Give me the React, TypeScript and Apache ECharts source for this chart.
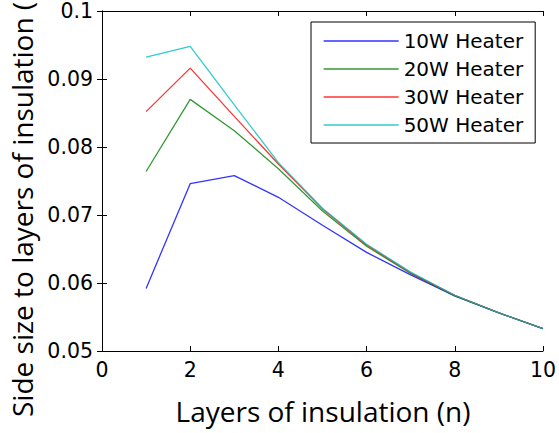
import React, { useEffect, useRef } from "react";
import * as echarts from "echarts";

const layers = [1, 2, 3, 4, 5, 6, 7, 8, 9, 10];
const heater10W = [0.0592, 0.0746, 0.0758, 0.0726, 0.0685, 0.0645, 0.0612, 0.0581, 0.0556, 0.0533];
const heater20W = [0.0764, 0.087, 0.0824, 0.0768, 0.0706, 0.0654, 0.0614, 0.0581, 0.0556, 0.0533];
const heater30W = [0.0852, 0.0916, 0.0845, 0.0775, 0.0709, 0.0656, 0.0615, 0.0582, 0.0556, 0.0533];
const heater50W = [0.0932, 0.0948, 0.0862, 0.0777, 0.071, 0.0657, 0.0616, 0.0582, 0.0556, 0.0533];
const seriesNames = ["10W Heater", "20W Heater", "30W Heater", "50W Heater"];
const seriesColors = ["#0000ff", "#008000", "#ff0000", "#00bfbf"];
const xTitle = "Layers of insulation (n)";
const yTitle = "Side size to layers of insulation (m)";

export default function App() {
  const ref = useRef<HTMLDivElement>(null);
  useEffect(() => {
    if (!ref.current) return;
    const chart = echarts.init(ref.current, null, { renderer: "svg" });
    const all = [heater10W, heater20W, heater30W, heater50W];
    const tickFont = { fontFamily: "DejaVu Sans", fontSize: 20.5, color: "#000" };
    const axisLine = { show: true, lineStyle: { color: "#000", width: 1 } };
    const axisTick = { show: true, inside: true, length: 5, lineStyle: { color: "#000" } };
    chart.setOption({
      animation: false,
      backgroundColor: "#fff",
      grid: { left: 102, right: 13, top: 11, bottom: 82, containLabel: false },
      xAxis: [
        {
          type: "value",
          min: 0,
          max: 10,
          interval: 2,
          position: "bottom",
          axisLine,
          axisTick,
          splitLine: { show: false },
          axisLabel: { ...tickFont, margin: 8 },
        },
        {
          type: "value",
          min: 0,
          max: 10,
          interval: 2,
          position: "top",
          axisLine,
          axisTick,
          splitLine: { show: false },
          axisLabel: { show: false },
        },
      ],
      yAxis: [
        {
          type: "value",
          min: 0.05,
          max: 0.1,
          interval: 0.01,
          position: "left",
          axisLine,
          axisTick,
          splitLine: { show: false },
          axisLabel: {
            ...tickFont,
            margin: 9,
            formatter: (v: number) => String(parseFloat(v.toFixed(4))),
          },
        },
        {
          type: "value",
          min: 0.05,
          max: 0.1,
          interval: 0.01,
          position: "right",
          axisLine,
          axisTick,
          splitLine: { show: false },
          axisLabel: { show: false },
        },
      ],
      legend: {
        data: seriesNames,
        orient: "vertical",
        left: 311,
        top: 22,
        padding: [9, 12, 8, 12],
        itemGap: 8,
        itemWidth: 75,
        itemHeight: 20,
        backgroundColor: "#fff",
        borderColor: "#000",
        borderWidth: 1,
        itemStyle: { opacity: 0, borderWidth: 0 },
        lineStyle: { width: 1.3 },
        textStyle: { fontFamily: "DejaVu Sans", fontSize: 20, color: "#000" },
      },
      graphic: [
        {
          type: "text",
          x: 323,
          y: 411,
          style: {
            text: xTitle,
            fontFamily: "Open Sans",
            fontSize: 28,
            fill: "#000",
            textAlign: "center",
            textVerticalAlign: "middle",
          },
        },
        {
          type: "text",
          x: 22,
          y: 417,
          rotation: Math.PI / 2,
          style: {
            text: yTitle,
            fontFamily: "Open Sans",
            fontSize: 28,
            fill: "#000",
            textAlign: "left",
            textVerticalAlign: "middle",
          },
        },
      ],
      series: all.map((vals, i) => ({
        name: seriesNames[i],
        type: "line",
        xAxisIndex: 0,
        yAxisIndex: 0,
        symbol: "none",
        data: layers.map((x, j) => [x, vals[j]]),
        lineStyle: { color: seriesColors[i], width: 1.3, opacity: 0.8 },
        itemStyle: { color: seriesColors[i] },
      })),
    });
    return () => chart.dispose();
  }, []);
  return (
    <div
      ref={ref}
      style={{ position: "absolute", left: 0, top: 0, width: 559, height: 433 }}
    />
  );
}
